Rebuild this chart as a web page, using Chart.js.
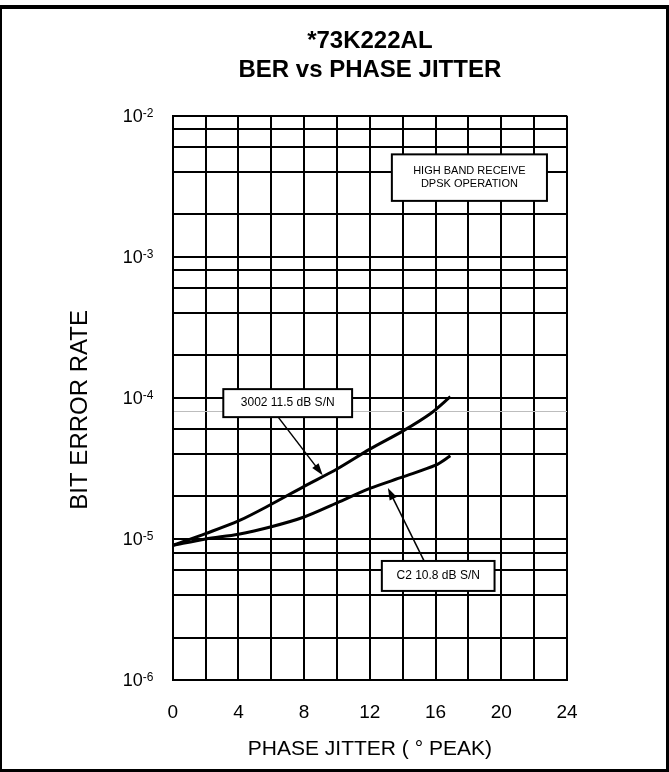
<!DOCTYPE html>
<html>
<head>
<meta charset="utf-8">
<script src="https://cdn.jsdelivr.net/npm/chart.js@4/dist/chart.umd.min.js"></script>
<style>
  html, body { margin: 0; padding: 0; background: #fff; }
  canvas { display: block; }
</style>
</head>
<body>
<canvas id="berChart" width="669" height="772"></canvas>
<script>
// grid and tick values
const xGrid = [0, 2, 4, 6, 8, 10, 12, 14, 16, 18, 20, 22, 24];
const xLabels = [0, 4, 8, 12, 16, 20, 24];
const yGrid = [1e-6, 2e-6, 4e-6, 6e-6, 8e-6,
               1e-5, 2e-5, 4e-5, 6e-5, 8e-5,
               1e-4, 2e-4, 4e-4, 6e-4, 8e-4,
               1e-3, 2e-3, 4e-3, 6e-3, 8e-3, 1e-2];
const yDecades = [1e-6, 1e-5, 1e-4, 1e-3, 1e-2];
const yExponents = ['-6', '-5', '-4', '-3', '-2'];

// curve 3002 11.5 dB S/N
const jitter3002 = [0, 2, 4, 6, 8, 10, 12, 14, 15.7, 16.9];
const ber3002 = [9.0e-6, 1.09e-5, 1.34e-5, 1.76e-5, 2.36e-5, 3.13e-5, 4.33e-5, 5.81e-5, 7.75e-5, 1.02e-4];

// curve C2 10.8 dB S/N
const jitterC2 = [0, 2, 4, 6, 8, 10, 12, 14, 16, 16.9];
const berC2 = [9.0e-6, 1.0e-5, 1.08e-5, 1.22e-5, 1.43e-5, 1.8e-5, 2.28e-5, 2.75e-5, 3.33e-5, 3.88e-5];

const FONT = '"Liberation Sans", Arial, sans-serif';
const yTitle = 'BIT ERROR RATE';

// boxed notes, corners in data units
const notes = [
    { lines: ['HIGH BAND RECEIVE', 'DPSK OPERATION'], x0: 13.34, x1: 22.78, y0: 5.32e-3, y1: 2.49e-3, size: 11 },
    { lines: ['3002 11.5 dB S/N'], x0: 3.08, x1: 10.92, y0: 1.153e-4, y1: 7.3e-5, size: 12 },
    { lines: ['C2 10.8 dB S/N'], x0: 12.73, x1: 19.59, y0: 6.98e-6, y1: 4.28e-6, size: 12 }
];
const arrows = [
    { from: [6.42, 7.3e-5], to: [9.13, 2.83e-5] },
    { from: [15.3, 6.98e-6], to: [13.1, 2.3e-5] }
];

const toPoints = (xs, ys) => xs.map((x, i) => ({ x: x, y: ys[i] }));

// white page, frame, y labels + title, notes and arrows
const extras = {
    id: 'extras',
    beforeDraw(chart) {
        const c = chart.ctx;
        c.save();
        c.fillStyle = '#fff';
        c.fillRect(0, 0, chart.width, chart.height);
        c.restore();
    },
    afterDatasetsDraw(chart) {
        const c = chart.ctx;
        const xs = chart.scales.x, ys = chart.scales.y;
        c.save();
        // notes
        notes.forEach(n => {
            const l = xs.getPixelForValue(n.x0), r = xs.getPixelForValue(n.x1);
            const t = ys.getPixelForValue(n.y0), b = ys.getPixelForValue(n.y1);
            c.fillStyle = '#fff';
            c.fillRect(l, t, r - l, b - t);
            c.strokeStyle = '#000';
            c.lineWidth = 2;
            c.strokeRect(l, t, r - l, b - t);
            c.fillStyle = '#000';
            c.font = n.size + 'px ' + FONT;
            c.textAlign = 'center';
            c.textBaseline = 'middle';
            const lh = n.size + 2;
            const cy = (t + b) / 2 - (n.lines.length - 1) * lh / 2;
            n.lines.forEach((s, i) => c.fillText(s, (l + r) / 2, cy + i * lh));
        });
        // arrows
        arrows.forEach(a => {
            const x1 = xs.getPixelForValue(a.from[0]), y1 = ys.getPixelForValue(a.from[1]);
            const x2 = xs.getPixelForValue(a.to[0]), y2 = ys.getPixelForValue(a.to[1]);
            const ang = Math.atan2(y2 - y1, x2 - x1);
            c.strokeStyle = '#000';
            c.lineWidth = 1.5;
            c.beginPath();
            c.moveTo(x1, y1);
            c.lineTo(x2 - 8 * Math.cos(ang), y2 - 8 * Math.sin(ang));
            c.stroke();
            c.beginPath();
            c.moveTo(x2, y2);
            c.lineTo(x2 - 12 * Math.cos(ang) + 4 * Math.sin(ang), y2 - 12 * Math.sin(ang) - 4 * Math.cos(ang));
            c.lineTo(x2 - 12 * Math.cos(ang) - 4 * Math.sin(ang), y2 - 12 * Math.sin(ang) + 4 * Math.cos(ang));
            c.closePath();
            c.fillStyle = '#000';
            c.fill();
        });
        c.restore();
    },
    afterDraw(chart) {
        const c = chart.ctx;
        const ys = chart.scales.y;
        const area = chart.chartArea;
        c.save();
        // decade labels 10^n
        const ax = ys.right - 30;
        c.fillStyle = '#000';
        yDecades.forEach((v, i) => {
            const y = ys.getPixelForValue(v);
            c.font = '18px ' + FONT;
            c.textAlign = 'right';
            c.textBaseline = 'middle';
            c.fillText('10', ax, y + 1);
            c.font = '12px ' + FONT;
            c.textAlign = 'left';
            c.textBaseline = 'top';
            c.fillText(yExponents[i], ax, y - 8);
        });
        // y axis title, a little below the plot centre as in the original
        c.translate(ys.left + 20, (area.top + area.bottom) / 2 + 12);
        c.rotate(-Math.PI / 2);
        c.font = '24px ' + FONT;
        c.textAlign = 'center';
        c.textBaseline = 'middle';
        c.fillText(yTitle, 0, 0);
        c.setTransform(1, 0, 0, 1, 0, 0);
        // outer frame
        c.fillStyle = '#000';
        c.fillRect(0, 5, chart.width, 4);
        c.fillRect(chart.width - 3, 5, 3, chart.height - 5);
        c.fillRect(0, chart.height - 3, chart.width, 3);
        c.fillRect(0, 5, 2, chart.height - 5);
        c.restore();
    }
};

const ctx = document.getElementById('berChart').getContext('2d');

new Chart(ctx, {
    type: 'line',
    data: {
        datasets: [
            {
                label: '3002 11.5 dB S/N',
                data: toPoints(jitter3002, ber3002),
                borderColor: '#000',
                borderWidth: 3,
                pointRadius: 0,
                tension: 0.3,
                fill: false
            },
            {
                label: 'C2 10.8 dB S/N',
                data: toPoints(jitterC2, berC2),
                borderColor: '#000',
                borderWidth: 3,
                pointRadius: 0,
                tension: 0.3,
                fill: false
            }
        ]
    },
    options: {
        responsive: false,
        animation: false,
        devicePixelRatio: 1,
        layout: {
            padding: { left: 60, right: 102, top: 12, bottom: 10 }
        },
        scales: {
            x: {
                type: 'linear',
                min: 0,
                max: 24,
                afterBuildTicks: axis => { axis.ticks = xGrid.map(v => ({ value: v })); },
                afterFit: axis => { axis.height = 82; },
                grid: { color: '#000', lineWidth: 2, drawTicks: false },
                border: { color: '#000', width: 2 },
                ticks: {
                    autoSkip: false,
                    maxRotation: 0,
                    padding: 21,
                    color: '#000',
                    font: { family: FONT, size: 19 },
                    callback: v => xLabels.includes(v) ? String(v) : ''
                },
                title: {
                    display: true,
                    text: 'PHASE JITTER ( ° PEAK)',
                    color: '#000',
                    font: { family: FONT, size: 21 },
                    padding: { top: 0, bottom: 0 }
                }
            },
            y: {
                type: 'logarithmic',
                min: 1e-6,
                max: 1e-2,
                afterBuildTicks: axis => { axis.ticks = yGrid.map(v => ({ value: v })); },
                afterFit: axis => { axis.width = 112.7; },
                grid: {
                    drawTicks: false,
                    color: c => (c.tick && c.tick.value === 8e-5) ? '#bdbdbd' : '#000',
                    lineWidth: c => (c.tick && c.tick.value === 8e-5) ? 1 : 2
                },
                border: { color: '#000', width: 2 },
                ticks: { display: false },
                title: { display: false }
            }
        },
        plugins: {
            legend: { display: false },
            tooltip: { enabled: false },
            title: {
                display: true,
                fullSize: false,
                text: ['*73K222AL', 'BER vs PHASE JITTER'],
                color: '#000',
                font: { family: FONT, size: 24, weight: 'bold' },
                padding: { top: 15, bottom: 31.1 }
            }
        }
    },
    plugins: [extras]
});
</script>
</body>
</html>
